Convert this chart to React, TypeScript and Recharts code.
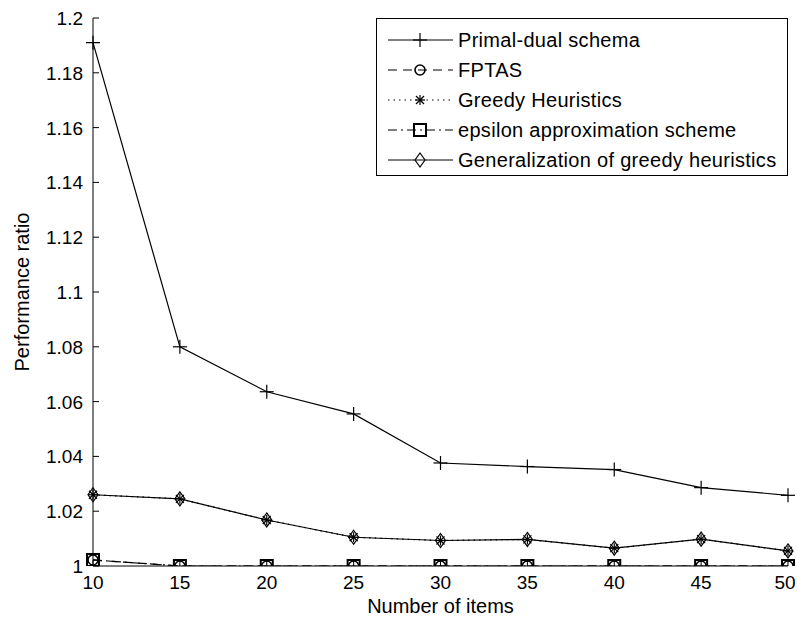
import React from 'react';
import { LineChart, Line, XAxis, YAxis } from 'recharts';

const items = [10, 15, 20, 25, 30, 35, 40, 45, 50];
const primalDual = [1.191, 1.08, 1.0636, 1.0555, 1.0376, 1.0363, 1.0352, 1.0286, 1.0258];
const fptas = [1.0022, 1, 1, 1, 1, 1, 1, 1, 1];
const greedy = [1.026, 1.0245, 1.0168, 1.0105, 1.0093, 1.0097, 1.0065, 1.0098, 1.0055];
const epsilon = [1.0022, 1, 1, 1, 1, 1, 1, 1, 1];
const generalization = [1.026, 1.0245, 1.0168, 1.0105, 1.0093, 1.0097, 1.0065, 1.0098, 1.0055];

const xTicks = [10, 15, 20, 25, 30, 35, 40, 45, 50];
const yTicks = [1, 1.02, 1.04, 1.06, 1.08, 1.1, 1.12, 1.14, 1.16, 1.18, 1.2];

const data = items.map((n, i) => ({
  n,
  primal: primalDual[i],
  fptas: fptas[i],
  greedy: greedy[i],
  epsilon: epsilon[i],
  general: generalization[i],
}));

const FONT = '"Liberation Sans", Arial, sans-serif';
const TICK_FONT = 19;

// marker shapes, MATLAB style
const Marker = ({ kind, cx, cy }: { kind: string; cx: number; cy: number }) => {
  const p = { stroke: '#000', strokeWidth: 1.2, fill: 'none' };
  if (kind === 'plus') {
    return (
      <g>
        <line x1={cx - 7} x2={cx + 7} y1={cy} y2={cy} {...p} />
        <line x1={cx} x2={cx} y1={cy - 7} y2={cy + 7} {...p} />
      </g>
    );
  }
  if (kind === 'circle') return <circle cx={cx} cy={cy} r={5} {...p} strokeWidth={1.6} />;
  if (kind === 'square') return <rect x={cx - 6} y={cy - 6} width={12} height={12} {...p} strokeWidth={2} />;
  if (kind === 'diamond') {
    return <path d={`M${cx},${cy - 7}L${cx + 5},${cy}L${cx},${cy + 7}L${cx - 5},${cy}Z`} {...p} />;
  }
  // asterisk
  return (
    <g>
      <line x1={cx - 5} x2={cx + 5} y1={cy} y2={cy} {...p} />
      <line x1={cx} x2={cx} y1={cy - 5} y2={cy + 5} {...p} />
      <line x1={cx - 4} x2={cx + 4} y1={cy - 4} y2={cy + 4} {...p} />
      <line x1={cx - 4} x2={cx + 4} y1={cy + 4} y2={cy - 4} {...p} />
    </g>
  );
};

const dotOf = (kind: string) => (props: any) => (
  <Marker key={`${kind}-${props.index}`} kind={kind} cx={props.cx} cy={props.cy} />
);

const fmt = (v: number) => String(Number(v.toFixed(2)));

const LeftTick = ({ x, y, payload }: any) => (
  <g>
    <line x1={x} x2={x + 6} y1={y} y2={y} stroke="#000" />
    <text x={x - 10} y={y + 7} textAnchor="end" fontSize={TICK_FONT} fontFamily={FONT} fill="#000">
      {fmt(payload.value)}
    </text>
  </g>
);

const RightTick = ({ x, y }: any) => <line x1={x} x2={x - 6} y1={y} y2={y} stroke="#000" />;

const BottomTick = ({ x, y, payload }: any) => {
  // keep the last label inside the page
  const tx = Math.min(x, 785);
  return (
    <g>
      <line x1={x} x2={x} y1={y} y2={y - 6} stroke="#000" />
      <text x={tx} y={y + 23} textAnchor="middle" fontSize={TICK_FONT} fontFamily={FONT} fill="#000">
        {payload.value}
      </text>
    </g>
  );
};

const TopTick = ({ x, y }: any) => <line x1={x} x2={x} y1={y} y2={y + 6} stroke="#000" />;

const series = [
  { key: 'primal', name: 'Primal-dual schema', dash: undefined, marker: 'plus' },
  { key: 'fptas', name: 'FPTAS', dash: '9 6', marker: 'circle' },
  { key: 'greedy', name: 'Greedy Heuristics', dash: '1.5 4', marker: 'asterisk' },
  { key: 'epsilon', name: 'epsilon approximation scheme', dash: '9 4 2 4', marker: 'square' },
  { key: 'general', name: 'Generalization of greedy heuristics', dash: undefined, marker: 'diamond' },
];

const LegendBox = () => (
  <svg width={797} height={626} style={{ position: 'absolute', left: 0, top: 0, pointerEvents: 'none' }}>
    <rect x={376.5} y={18.5} width={411} height={157} fill="#fff" stroke="#000" />
    {series.map((s, i) => {
      const y = 40 + i * 30;
      return (
        <g key={s.key}>
          <line x1={388} x2={453} y1={y} y2={y} stroke="#000" strokeDasharray={s.dash} />
          <Marker kind={s.marker} cx={420} cy={y} />
          <text x={458} y={y + 7} fontSize={20} letterSpacing={0.3} fontFamily={FONT} fill="#000">
            {s.name}
          </text>
        </g>
      );
    })}
  </svg>
);

export default function App() {
  return (
    <div style={{ position: 'absolute', left: 0, top: 0, width: 797, height: 626, background: '#fff' }}>
      <LineChart width={797} height={626} data={data} margin={{ top: 18, right: 9, left: 0, bottom: 0 }}>
        <XAxis
          dataKey="n"
          type="number"
          domain={[10, 50]}
          ticks={xTicks}
          height={60}
          tickSize={0}
          tickMargin={0}
          tickLine={false}
          axisLine={{ stroke: '#000' }}
          tick={<BottomTick />}
          label={{ value: 'Number of items', position: 'insideBottom', offset: 13, fontSize: 20, fontFamily: FONT, fill: '#000' }}
        />
        <XAxis
          xAxisId="top"
          dataKey="n"
          type="number"
          orientation="top"
          domain={[10, 50]}
          ticks={xTicks}
          height={0}
          tickSize={0}
          tickMargin={0}
          tickLine={false}
          axisLine={{ stroke: '#000' }}
          tick={<TopTick />}
        />
        <YAxis
          type="number"
          domain={[1, 1.2]}
          ticks={yTicks}
          width={93}
          tickSize={0}
          tickMargin={0}
          tickLine={false}
          axisLine={{ stroke: '#000' }}
          tick={<LeftTick />}
          allowDataOverflow
          label={{
            value: 'Performance ratio',
            angle: -90,
            position: 'insideLeft',
            offset: 22,
            style: { textAnchor: 'middle', fontSize: 20, fontFamily: FONT, fill: '#000' },
          }}
        />
        <YAxis
          yAxisId="right"
          orientation="right"
          type="number"
          domain={[1, 1.2]}
          ticks={yTicks}
          width={0}
          tickSize={0}
          tickMargin={0}
          tickLine={false}
          axisLine={{ stroke: '#000' }}
          tick={<RightTick />}
        />
        {series.map((s) => (
          <Line
            key={s.key}
            dataKey={s.key}
            stroke="#000"
            strokeWidth={1.2}
            strokeDasharray={s.dash}
            dot={dotOf(s.marker)}
            activeDot={false}
            isAnimationActive={false}
          />
        ))}
      </LineChart>
      <LegendBox />
    </div>
  );
}
